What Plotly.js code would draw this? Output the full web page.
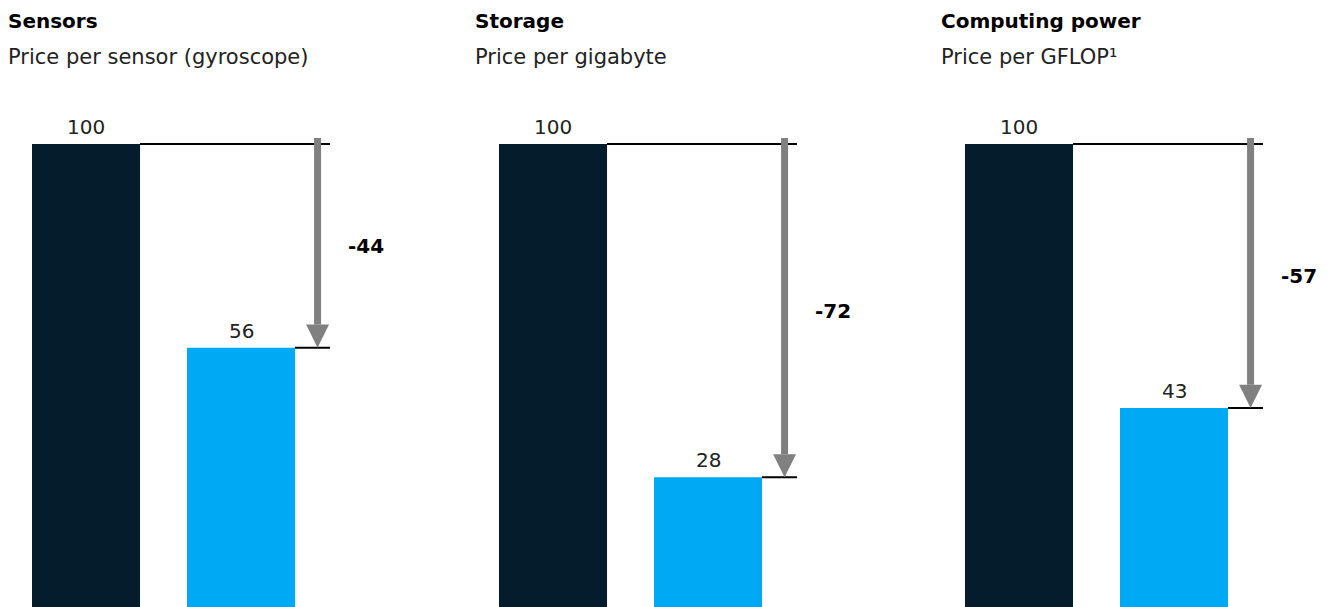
<!DOCTYPE html>
<html>
<head>
<meta charset="utf-8">
<script src="https://cdn.plot.ly/plotly-3.0.1.min.js"></script>
<style>html,body{margin:0;padding:0;background:#fff;}#chart{width:1329px;height:607px;}</style>
</head>
<body>
<div id="chart"></div>
<script>
// ---- data ----
const panelTitles = ['Sensors', 'Storage', 'Computing power'];
const panelSubtitles = ['Price per sensor (gyroscope)', 'Price per gigabyte', 'Price per GFLOP\u00B9'];
const categories = ['Before', 'After'];
const baseValues = [100, 100, 100];
const newValues = [56, 28, 43];
const changeLabels = ['-44', '-72', '-57'];

// ---- styling ----
const W = 1329, H = 607;
const NAVY = '#051c2c', BLUE = '#00a9f4', GREY = '#808080';
const FONT = 'DejaVu Sans, Arial, sans-serif';
const panelLeftPx = [0, 467, 933];
const panelWidthPx = 396;
const barWidth = 0.697;
const arrowX = 1.494;
const lineEndX = 1.574;
const yMax = 131.1;

const data = [];
const shapes = [];
const annotations = [];
const layout = {
  width: W, height: H,
  margin: {l: 0, r: 0, t: 0, b: 0},
  paper_bgcolor: '#fff', plot_bgcolor: '#fff',
  showlegend: false,
  font: {family: FONT, size: 20, color: '#222'},
  yaxis: {range: [0, yMax], visible: false, fixedrange: true, domain: [0, 1]},
  shapes: shapes, annotations: annotations
};

panelTitles.forEach((t, i) => {
  const ax = i === 0 ? 'x' : 'x' + (i + 1);
  const axKey = i === 0 ? 'xaxis' : 'xaxis' + (i + 1);
  layout[axKey] = {
    type: 'category', categoryarray: categories, categoryorder: 'array',
    domain: [panelLeftPx[i] / W, (panelLeftPx[i] + panelWidthPx) / W],
    range: [-0.555, 2.0], visible: false, fixedrange: true, anchor: 'y'
  };
  const vals = [baseValues[i], newValues[i]];
  data.push({
    type: 'bar', x: categories, y: vals, xaxis: ax, yaxis: 'y',
    width: barWidth, marker: {color: [NAVY, BLUE], line: {width: 0}},
    hoverinfo: 'skip'
  });
  // value labels
  vals.forEach((v, k) => {
    annotations.push({
      xref: ax, yref: 'y', x: k, y: v, text: String(v), showarrow: false,
      xanchor: 'center', yanchor: 'bottom', yshift: 3,
      font: {family: FONT, size: 20, color: '#222'}
    });
  });
  // reference lines
  shapes.push({type: 'line', xref: ax, yref: 'y', x0: barWidth / 2, x1: lineEndX,
    y0: baseValues[i], y1: baseValues[i], line: {color: '#000', width: 2}});
  shapes.push({type: 'line', xref: ax, yref: 'y', x0: 1 + barWidth / 2, x1: lineEndX,
    y0: newValues[i], y1: newValues[i], line: {color: '#000', width: 2}});
  // arrow shaft
  const headH = 5, headHalf = 0.074;
  shapes.push({type: 'line', xref: ax, yref: 'y', x0: arrowX, x1: arrowX,
    y0: baseValues[i] + 1.3, y1: newValues[i] + headH, line: {color: GREY, width: 7}});
  // arrow head
  shapes.push({type: 'path', xref: ax, yref: 'y',
    path: `M ${arrowX - headHalf} ${newValues[i] + headH} L ${arrowX + headHalf} ${newValues[i] + headH} L ${arrowX} ${newValues[i]} Z`,
    fillcolor: GREY, line: {width: 0}});
  // change label
  annotations.push({
    xref: ax, yref: 'y', x: arrowX, y: (baseValues[i] + newValues[i]) / 2,
    text: '<b>' + changeLabels[i] + '</b>', showarrow: false,
    xanchor: 'left', yanchor: 'middle', xshift: 28,
    font: {family: FONT, size: 20, color: '#000'}
  });
  // titles
  annotations.push({
    xref: 'paper', yref: 'paper', x: (panelLeftPx[i] + 6) / W, y: 1 - 7 / H,
    text: '<b>' + t + '</b>', showarrow: false, xanchor: 'left', yanchor: 'top',
    font: {family: FONT, size: 20, color: '#000'}
  });
  annotations.push({
    xref: 'paper', yref: 'paper', x: (panelLeftPx[i] + 6) / W, y: 1 - 43 / H,
    text: panelSubtitles[i], showarrow: false, xanchor: 'left', yanchor: 'top',
    font: {family: FONT, size: 21, color: '#222'}
  });
});

Plotly.newPlot('chart', data, layout, {displayModeBar: false, staticPlot: true});
</script>
</body>
</html>
